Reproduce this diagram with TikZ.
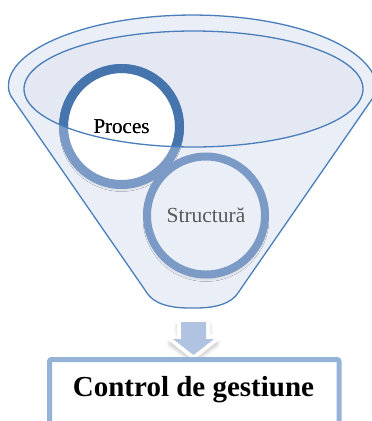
\documentclass[tikz,border=0pt]{standalone}
\usepackage{fontspec}
\setmainfont{Liberation Serif}
\usetikzlibrary{shadows.blur}
\definecolor{funnelline}{HTML}{4A7EBB}
\definecolor{funnelfill}{HTML}{EAEEF6}
\definecolor{innerfill}{HTML}{E3E8F2}
\definecolor{darkring}{HTML}{4674AD}
\definecolor{lightring}{HTML}{7B9BC6}
\definecolor{structtext}{HTML}{595959}
\definecolor{arrowfill}{HTML}{B0C3E0}
\definecolor{boxline}{HTML}{95B3D7}
\tikzset{
  ring/.style={circle, inner sep=0pt, minimum size=#1},
  softshadow/.style={blur shadow={shadow xshift=0pt, shadow yshift=-3pt, shadow blur radius=4pt, shadow opacity=30}},
}
\begin{document}
\begin{tikzpicture}[x=1pt,y=1pt]
\useasboundingbox (0,0) rectangle (372,-421);
% funnel body
\draw[funnelline, line width=1.3pt, fill=funnelfill, rounded corners=3pt]
  (9.7,-94.4) arc[start angle=185, end angle=-5, x radius=183.5, y radius=73]
  -- (240,-290)
  .. controls (231,-304) and (215,-308) .. (192.5,-308)
  .. controls (170,-308) and (154,-304) .. (145,-290) -- cycle;
% inner ellipse fill
\fill[innerfill] (193.5,-89) ellipse[x radius=169.5, y radius=58];
% Proces circle
\node[ring=116pt, draw=lightring, line width=9pt, fill=white, softshadow,
      font=\fontsize{21}{24}\selectfont, text=black] (proc) at (121.5,-126.5) {Proces};
\begin{scope}
  \clip (193.5,-89) ellipse[x radius=169.5, y radius=58];
  \draw[darkring, line width=9pt] (proc.center) circle[radius=58];
\end{scope}
\node[font=\fontsize{21}{24}\selectfont, text=black] at (proc.center) {Proces};
% inner ellipse stroke
\draw[funnelline, line width=1.3pt] (193.5,-89) ellipse[x radius=169.5, y radius=58];
% Structura circle
\node[ring=118pt, draw=lightring, line width=8pt, fill=funnelfill, softshadow,
      font=\fontsize{21.5}{24}\selectfont, text=structtext] (struc) at (206,-215.5) {Structură};
% arrow
\path[blur shadow={shadow xshift=0pt, shadow yshift=-4pt, shadow blur radius=6pt, shadow opacity=45}, fill=white]
  (180,-322) -- (207,-322) -- (207,-339) -- (215,-339) -- (193.5,-355) -- (172,-339) -- (180,-339) -- cycle;
\draw[white, line width=8pt, line join=miter, fill=arrowfill]
  (181,-322) -- (206,-322) -- (206,-339) -- (214,-339) -- (193.5,-355) -- (173,-339) -- (181,-339) -- cycle;
\fill[arrowfill]
  (181,-322) -- (206,-322) -- (206,-339) -- (214,-339) -- (193.5,-355) -- (173,-339) -- (181,-339) -- cycle;
% box
\draw[boxline, line width=5pt, fill=white, rounded corners=2pt] (49.5,-359.5) rectangle (339,-440);
\node[font=\fontsize{29}{32}\selectfont\bfseries] (ctrl) at (193.5,-390) {Control de gestiune};
\end{tikzpicture}
\end{document}
